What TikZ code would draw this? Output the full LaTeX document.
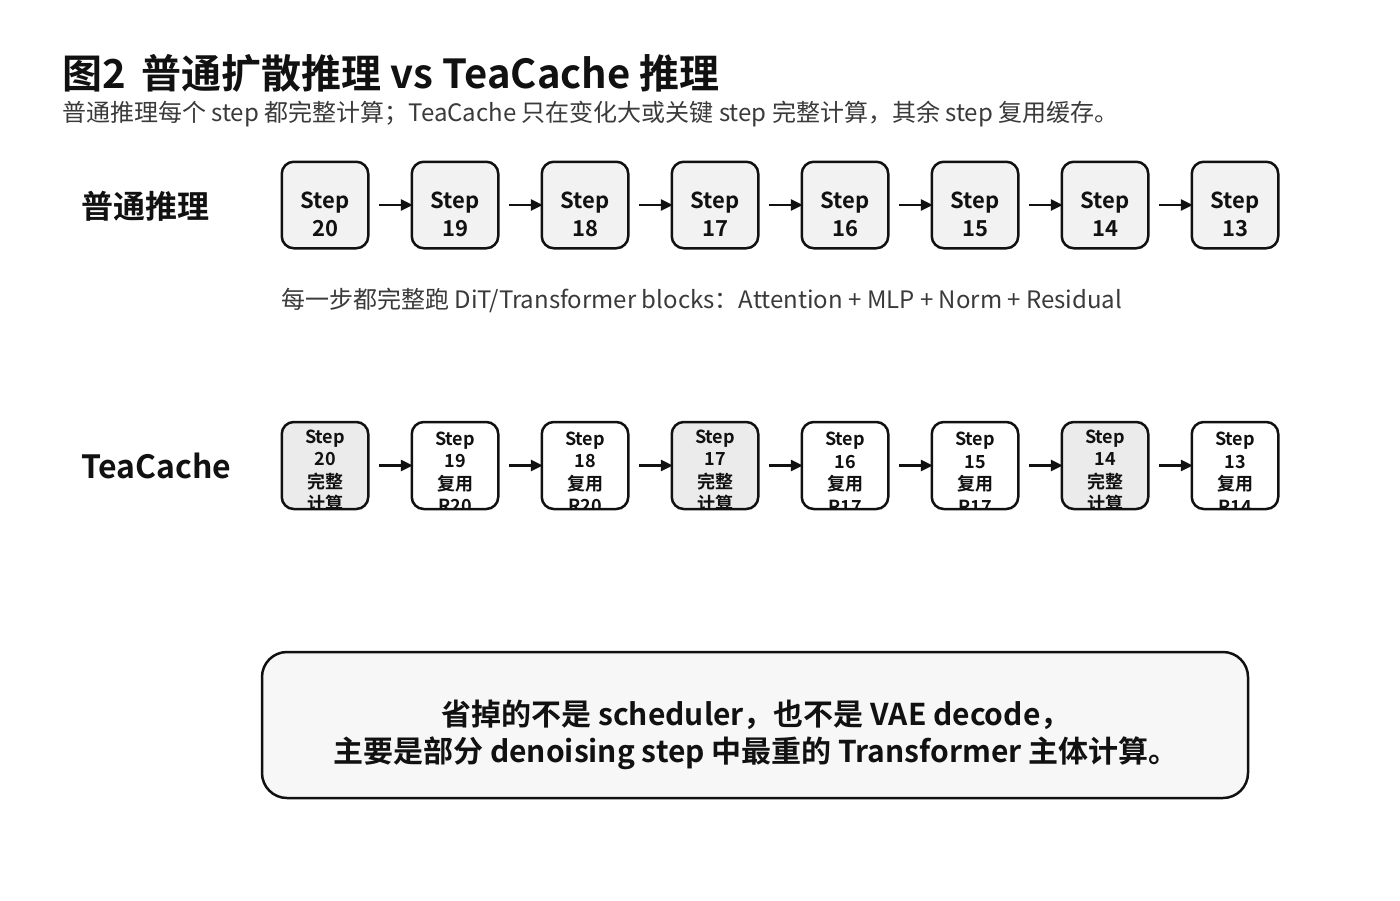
\documentclass[tikz,border=0pt]{standalone}
\usepackage{fontspec}
\setmainfont{Noto Sans CJK SC}[BoldFont={Noto Sans CJK SC Bold}]
\usetikzlibrary{arrows.meta}
\definecolor{ink}{HTML}{111111}
\definecolor{subink}{HTML}{3A3A3A}
\definecolor{boxgray}{HTML}{F2F2F2}
\definecolor{fullgray}{HTML}{EBEBEB}
\definecolor{notegray}{HTML}{F7F7F7}
\begin{document}
\begin{tikzpicture}[x=1pt,y=-1pt,
  stepbox/.style={draw=ink, line width=2.5pt, rounded corners=12pt, minimum width=86.5pt, minimum height=86.5pt, inner sep=0pt, outer sep=0pt, fill=boxgray},
  cachebox/.style={line width=2.5pt, rounded corners=12pt, minimum width=86.5pt, minimum height=87pt, inner sep=0pt, outer sep=0pt},
  steptext/.style={font=\bfseries\fontsize{22}{28}\selectfont, text=ink, align=center, inner sep=0pt},
  cachetext/.style={font=\bfseries\fontsize{18}{22.5}\selectfont, text=ink, align=center, inner sep=0pt},
  arr/.style={-{Triangle[length=12pt,width=11pt]}, line width=2.5pt, draw=ink},
]
\useasboundingbox (0,0) rectangle (1400,900);
\fill[white] (0,0) rectangle (1400,900);

% title
\node[anchor=west, font=\bfseries\fontsize{40}{48}\selectfont, text=ink, inner sep=0pt] (title) at (62,73) {图2\hspace{0.4em}普通扩散推理 vs TeaCache 推理};
\node[anchor=west, font=\fontsize{24}{28}\selectfont, text=subink, inner sep=0pt] (sub) at (62,114.5) {普通推理每个 step 都完整计算；TeaCache 只在变化大或关键 step 完整计算，其余 step 复用缓存。};

% row labels
\node[anchor=west, font=\bfseries\fontsize{32}{38}\selectfont, text=ink, inner sep=0pt] (lab1) at (81,206) {普通推理};
\node[anchor=west, font=\bfseries\fontsize{32}{38}\selectfont, text=ink, inner sep=0pt] (lab2) at (81,466) {TeaCache};

% top row
\foreach \i/\n in {0/20,1/19,2/18,3/17,4/16,5/15,6/14,7/13} {
  \node[stepbox] (a\i) at ({325+130*\i},205) {};
  \node[steptext] at ({325+130*\i},214) {Step\\\n};
}
\foreach \i [evaluate=\i as \j using int(\i+1)] in {0,...,6} {
  \draw[arr] ([xshift=11pt]a\i.east) -- ([xshift=1pt]a\j.west);
}

\node[anchor=west, font=\fontsize{24}{28}\selectfont, text=subink, inner sep=0pt] (desc) at (281,300) {每一步都完整跑 DiT/Transformer blocks：Attention + MLP + Norm + Residual};

% TeaCache row
\foreach \i/\n/\a/\b/\f/\yy in {0/20/完整/计算/fullgray/470,1/19/复用/R20/white/471.5,2/18/复用/R20/white/471.5,3/17/完整/计算/fullgray/470,4/16/复用/R17/white/471.5,5/15/复用/R17/white/471.5,6/14/完整/计算/fullgray/470,7/13/复用/R14/white/471.5} {
  \node[cachebox, fill=\f] (b\i) at ({325+130*\i},465.5) {};
  \begin{scope}
    \clip[rounded corners=12pt] (b\i.south west) rectangle (b\i.north east);
    \node[cachetext] at ({325+130*\i},\yy+1) {Step\\\n\\\a\\\b};
  \end{scope}
  \draw[draw=ink, line width=2.5pt, rounded corners=12pt] (b\i.south west) rectangle (b\i.north east);
}
\foreach \i [evaluate=\i as \j using int(\i+1)] in {0,...,6} {
  \draw[arr] ([xshift=11pt]b\i.east) -- ([xshift=1pt]b\j.west);
}

% note box
\node[draw=ink, line width=2.5pt, rounded corners=25pt, fill=notegray, minimum width=986pt, minimum height=146pt, inner sep=0pt, outer sep=0pt] (note) at (755,725) {};
\node[font=\bfseries\fontsize{30}{37}\selectfont, text=ink, align=center, inner sep=0pt] (notetext) at (756,735) {省掉的不是 scheduler，也不是 VAE decode，\\主要是部分 denoising step 中最重的 Transformer 主体计算。};
\end{tikzpicture}
\end{document}
